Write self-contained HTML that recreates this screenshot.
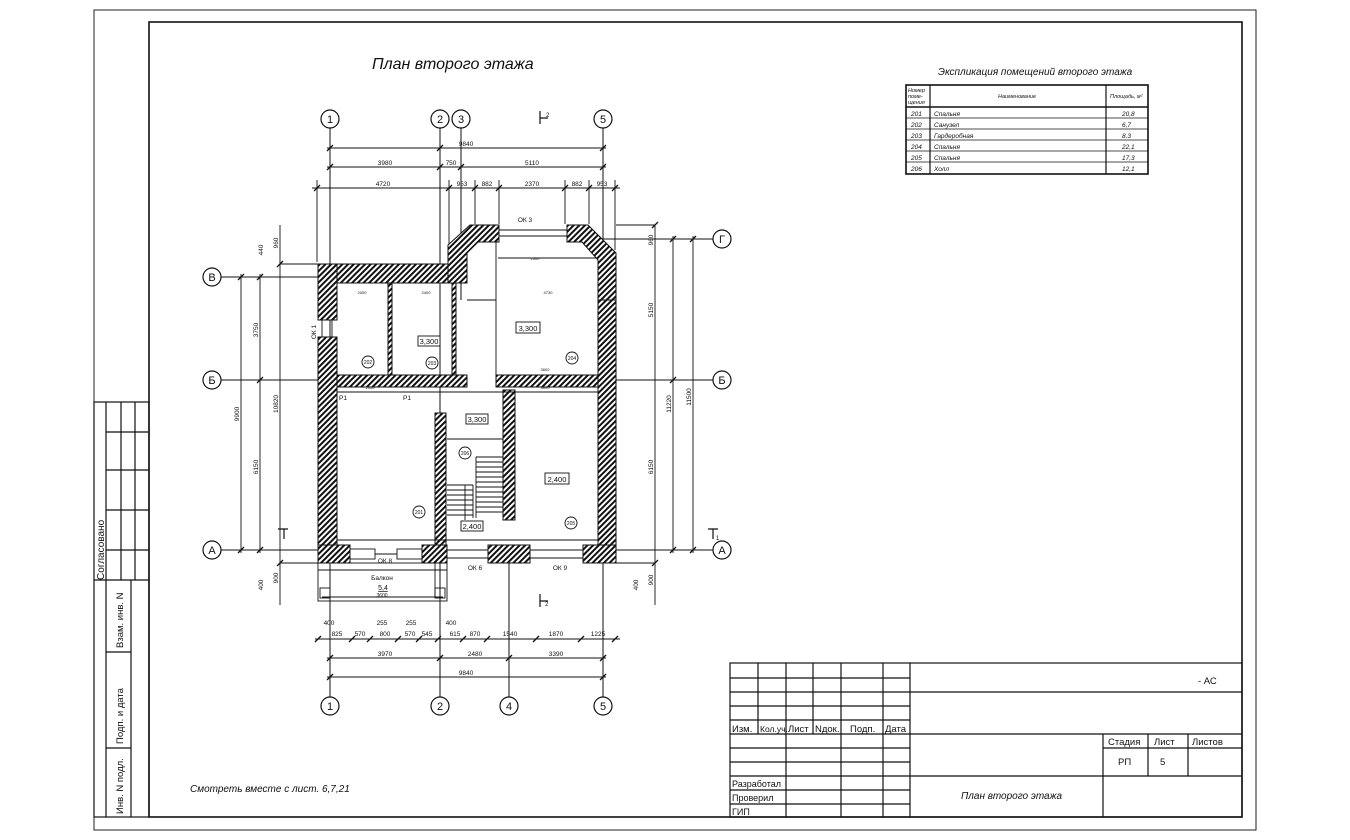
<!DOCTYPE html>
<html><head><meta charset="utf-8"><style>
html,body{margin:0;padding:0;background:#fff}
svg{display:block}
text{font-family:"Liberation Sans",sans-serif;fill:#111}
.d{font-size:6.5px}
.it{font-style:italic}
</style></head><body>
<svg width="1350" height="840" viewBox="0 0 1350 840" xmlns="http://www.w3.org/2000/svg">
<defs>
<pattern id="h" width="4" height="4" patternUnits="userSpaceOnUse" patternTransform="rotate(45)">
<rect width="4" height="4" fill="#fff"/><rect width="2" height="4" fill="#111"/>
</pattern>
</defs>
<rect width="1350" height="840" fill="#fff"/>
<!-- frames -->
<rect x="94" y="10" width="1162" height="820" fill="none" stroke="#222" stroke-width="1"/>
<rect x="149" y="22" width="1093" height="795" fill="none" stroke="#111" stroke-width="1.6"/>
<!-- left strip -->
<g stroke="#111" stroke-width="1.2" fill="none">
<rect x="94" y="402" width="55" height="415"/>
<line x1="106" y1="402" x2="106" y2="817"/>
<line x1="121" y1="402" x2="121" y2="580"/>
<line x1="135" y1="402" x2="135" y2="580"/>
<line x1="106" y1="432" x2="149" y2="432"/>
<line x1="106" y1="470" x2="149" y2="470"/>
<line x1="106" y1="510" x2="149" y2="510"/>
<line x1="106" y1="550" x2="149" y2="550"/>
<line x1="94" y1="580" x2="149" y2="580"/>
<line x1="131" y1="580" x2="131" y2="817"/>
<line x1="106" y1="652" x2="131" y2="652"/>
<line x1="106" y1="748" x2="131" y2="748"/>
</g>
<text transform="translate(104,580) rotate(-90)" style="font-size:10px">Согласовано</text>
<text transform="translate(123,648) rotate(-90)" style="font-size:9.5px">Взам. инв. N</text>
<text transform="translate(123,744) rotate(-90)" style="font-size:9.5px">Подп. и дата</text>
<text transform="translate(123,814) rotate(-90)" style="font-size:9.5px">Инв. N подл.</text>

<!-- Title -->
<text x="372" y="69" class="it" style="font-size:16px">План второго этажа</text>
<text x="938" y="75" class="it" style="font-size:10px">Экспликация помещений второго  этажа</text>
<!-- explication table -->
<g stroke="#111" fill="none">
<rect x="906" y="85" width="242" height="89" stroke-width="1.6"/>
<line x1="930" y1="85" x2="930" y2="174" stroke-width="1.2"/>
<line x1="1106" y1="85" x2="1106" y2="174" stroke-width="1.2"/>
<line x1="906" y1="107" x2="1148" y2="107" stroke-width="1.6"/>
<line x1="906" y1="118" x2="1148" y2="118" stroke-width="0.8"/>
<line x1="906" y1="129" x2="1148" y2="129" stroke-width="0.8"/>
<line x1="906" y1="140" x2="1148" y2="140" stroke-width="0.8"/>
<line x1="906" y1="151" x2="1148" y2="151" stroke-width="0.8"/>
<line x1="906" y1="162" x2="1148" y2="162" stroke-width="0.8"/>
</g>
<g style="font-size:5.5px" class="it">
<text x="908" y="92">Номер</text><text x="908" y="98">поме-</text><text x="908" y="104">щения</text>
<text x="998" y="98">Наименование</text>
<text x="1110" y="98">Площадь, м²</text>
</g>
<g style="font-size:6.5px" class="it">
<text x="911" y="116">201</text><text x="934" y="116">Спальня</text><text x="1122" y="116">20,8</text>
<text x="911" y="127">202</text><text x="934" y="127">Санузел</text><text x="1122" y="127">6,7</text>
<text x="911" y="138">203</text><text x="934" y="138">Гардеробная</text><text x="1122" y="138">8.3</text>
<text x="911" y="149">204</text><text x="934" y="149">Спальня</text><text x="1122" y="149">22,1</text>
<text x="911" y="160">205</text><text x="934" y="160">Спальня</text><text x="1122" y="160">17,3</text>
<text x="911" y="171">206</text><text x="934" y="171">Холл</text><text x="1122" y="171">12,1</text>
</g>

<!-- axis lines -->
<g stroke="#111" stroke-width="1">
<line x1="330" y1="128" x2="330" y2="697"/>
<line x1="440" y1="128" x2="440" y2="697"/>
<line x1="461" y1="128" x2="461" y2="300"/>
<line x1="509" y1="560" x2="509" y2="697"/>
<line x1="603" y1="128" x2="603" y2="697"/>
<line x1="221" y1="277" x2="340" y2="277"/>
<line x1="221" y1="380" x2="340" y2="380"/>
<line x1="600" y1="380" x2="713" y2="380"/>
<line x1="221" y1="550" x2="340" y2="550"/>
<line x1="600" y1="550" x2="713" y2="550"/>
<line x1="600" y1="239" x2="713" y2="239"/>
</g>
<g stroke="#111" stroke-width="1.2" fill="#fff">
<circle cx="330" cy="119" r="9"/><circle cx="440" cy="119" r="9"/><circle cx="461" cy="119" r="9"/><circle cx="603" cy="119" r="9"/>
<circle cx="330" cy="706" r="9"/><circle cx="440" cy="706" r="9"/><circle cx="509" cy="706" r="9"/><circle cx="603" cy="706" r="9"/>
<circle cx="212" cy="277" r="9"/><circle cx="212" cy="380" r="9"/><circle cx="212" cy="550" r="9"/>
<circle cx="722" cy="239" r="9"/><circle cx="722" cy="380" r="9"/><circle cx="722" cy="550" r="9"/>
</g>
<g style="font-size:11px" text-anchor="middle">
<text x="330" y="123">1</text><text x="440" y="123">2</text><text x="461" y="123">3</text><text x="603" y="123">5</text>
<text x="330" y="710">1</text><text x="440" y="710">2</text><text x="509" y="710">4</text><text x="603" y="710">5</text>
<text x="212" y="281">В</text><text x="212" y="384">Б</text><text x="212" y="554">А</text>
<text x="722" y="243">Г</text><text x="722" y="384">Б</text><text x="722" y="554">А</text>
</g>

<!-- dimension lines -->
<g stroke="#111" stroke-width="0.9">
<line x1="327" y1="148" x2="606" y2="148"/>
<line x1="327" y1="167" x2="606" y2="167"/>
<line x1="312" y1="188" x2="620" y2="188"/>
<line x1="317" y1="180" x2="317" y2="262"/>
<line x1="449" y1="180" x2="449" y2="245"/>
<line x1="475" y1="180" x2="475" y2="224"/>
<line x1="499" y1="180" x2="499" y2="224"/>
<line x1="565" y1="180" x2="565" y2="224"/>
<line x1="589" y1="180" x2="589" y2="224"/>
<line x1="615" y1="180" x2="615" y2="250"/>
<line x1="315" y1="639" x2="620" y2="639"/>
<line x1="327" y1="658" x2="606" y2="658"/>
<line x1="327" y1="677" x2="606" y2="677"/>
<line x1="241" y1="274" x2="241" y2="553"/>
<line x1="260" y1="274" x2="260" y2="553"/>
<line x1="280" y1="225" x2="280" y2="605"/>
<line x1="655" y1="225" x2="655" y2="605"/>
<line x1="673" y1="236" x2="673" y2="553"/>
<line x1="693" y1="236" x2="693" y2="553"/>
<line x1="280" y1="264" x2="318" y2="264"/>
<line x1="616" y1="225" x2="655" y2="225"/>
<line x1="616" y1="563" x2="655" y2="563"/>
<line x1="280" y1="563" x2="318" y2="563"/>
</g>
<g stroke="#111" stroke-width="1.3">
<path d="M327 151l6-6M437 151l6-6M600 151l6-6M327 170l6-6M437 170l6-6M458 170l6-6M600 170l6-6"/>
<path d="M314 191l6-6M446 191l6-6M472 191l6-6M496 191l6-6M562 191l6-6M586 191l6-6M612 191l6-6"/>
<path d="M327 661l6-6M437 661l6-6M506 661l6-6M600 661l6-6M327 680l6-6M600 680l6-6"/>
<path d="M315 642l6-6M349 642l6-6M367 642l6-6M395 642l6-6M416 642l6-6M435 642l6-6M460 642l6-6M484 642l6-6M533 642l6-6M578 642l6-6M612 642l6-6"/>
<path d="M238 280l6-6M238 553l6-6M257 280l6-6M257 383l6-6M257 553l6-6M277 267l6-6M277 566l6-6M652 228l6-6M652 566l6-6M670 242l6-6M670 383l6-6M670 553l6-6M690 242l6-6M690 553l6-6"/>
</g>
<g class="d" text-anchor="middle">
<text x="466" y="146">9840</text>
<text x="385" y="165">3980</text><text x="451" y="165">750</text><text x="532" y="165">5110</text>
<text x="383" y="186">4720</text><text x="462" y="186">953</text><text x="487" y="186">882</text><text x="532" y="186">2370</text><text x="577" y="186">882</text><text x="602" y="186">953</text>
<text x="337" y="636">825</text><text x="360" y="636">570</text><text x="385" y="636">800</text><text x="410" y="636">570</text><text x="427" y="636">545</text><text x="455" y="636">615</text><text x="475" y="636">870</text><text x="510" y="636">1540</text><text x="556" y="636">1870</text><text x="598" y="636">1225</text>
<text x="329" y="625">400</text><text x="382" y="625">255</text><text x="411" y="625">255</text><text x="451" y="625">400</text>
<text x="385" y="656">3970</text><text x="475" y="656">2480</text><text x="556" y="656">3390</text>
<text x="466" y="675">9840</text>
<text x="525" y="222">ОК 3</text><text x="385" y="563">ОК 8</text><text x="475" y="570">ОК 6</text><text x="560" y="570">ОК 9</text>
</g>
<g class="d" text-anchor="middle">
<text transform="translate(239,414) rotate(-90)">9900</text>
<text transform="translate(258,330) rotate(-90)">3750</text>
<text transform="translate(258,467) rotate(-90)">6150</text>
<text transform="translate(278,404) rotate(-90)">10820</text>
<text transform="translate(263,250) rotate(-90)">440</text>
<text transform="translate(278,243) rotate(-90)">960</text>
<text transform="translate(263,585) rotate(-90)">400</text>
<text transform="translate(278,578) rotate(-90)">900</text>
<text transform="translate(653,310) rotate(-90)">5150</text>
<text transform="translate(653,467) rotate(-90)">6150</text>
<text transform="translate(671,404) rotate(-90)">11220</text>
<text transform="translate(691,397) rotate(-90)">11500</text>
<text transform="translate(653,240) rotate(-90)">960</text>
<text transform="translate(653,580) rotate(-90)">900</text>
<text transform="translate(638,585) rotate(-90)">400</text>
<text transform="translate(316,332) rotate(-90)">ОК 1</text>
</g>

<!-- section marks -->
<g stroke="#111" stroke-width="1.2" fill="none">
<path d="M540 111v13M540 118h8"/>
<path d="M540 594v13M540 601h8"/>
<path d="M284 529v10M278 529h10"/>
<path d="M708 529h10M713 529v10"/>
</g>
<g style="font-size:6px"><text x="546" y="117">2</text><text x="545" y="606">2</text><text x="716" y="540">1</text></g>

<!-- building floor -->
<rect x="318" y="264" width="298" height="299" fill="none"/>
<!-- walls -->
<g fill="url(#h)" stroke="#111" stroke-width="1">
<rect x="318" y="264" width="19" height="56"/>
<rect x="318" y="337" width="19" height="226"/>
<rect x="337" y="264" width="111" height="19"/>
<polygon points="448,283 448,245 470,225 499,225 499,242 478,242 467,253 467,283"/>
<polygon points="567,225 588,225 616,253 616,300 598,300 598,260 582,242 567,242"/>
<rect x="598" y="300" width="18" height="263"/>
<rect x="337" y="375" width="130" height="12"/>
<rect x="496" y="375" width="102" height="12"/>
<rect x="318" y="545" width="32" height="18"/>
<rect x="422" y="545" width="25" height="18"/>
<rect x="488" y="545" width="42" height="18"/>
<rect x="583" y="545" width="33" height="18"/>
<rect x="435" y="413" width="11" height="132"/>
<rect x="503" y="390" width="12" height="130"/>
<rect x="388" y="283" width="4" height="92"/>
<rect x="452" y="283" width="4" height="92"/>
</g>
<g stroke="#111" stroke-width="0.9" fill="none">
<line x1="499" y1="230" x2="567" y2="230"/><line x1="499" y1="236" x2="567" y2="236"/>
<line x1="322" y1="320" x2="322" y2="337"/><line x1="332" y1="320" x2="332" y2="337"/>
<rect x="350" y="549" width="25" height="10"/><rect x="397" y="549" width="25" height="10"/>
<line x1="375" y1="554" x2="397" y2="554"/>
<line x1="447" y1="550" x2="488" y2="550"/><line x1="447" y1="558" x2="488" y2="558"/>
<line x1="530" y1="550" x2="583" y2="550"/><line x1="530" y1="558" x2="583" y2="558"/>
<line x1="496" y1="242" x2="496" y2="375"/>
<line x1="498" y1="258" x2="598" y2="258"/>
<line x1="467" y1="300" x2="496" y2="300"/>
<line x1="447" y1="439" x2="503" y2="439"/>
<line x1="337" y1="392" x2="598" y2="392"/>
<line x1="337" y1="540" x2="598" y2="540"/>
<path d="M476 457h27M476 462h27M476 467h27M476 472h27M476 477h27M476 482h27M476 487h27M476 492h27M476 497h27M476 502h27M476 507h27M476 512h27M476 457v61"/>
<path d="M447 485h26M447 490h26M447 495h26M447 500h26M447 505h26M447 510h26M447 515h26M473 485v33"/>
<line x1="465" y1="485" x2="465" y2="520"/>
<!-- balcony -->
<rect x="318" y="563" width="129" height="38"/>
<line x1="330" y1="563" x2="330" y2="598"/><line x1="435" y1="563" x2="435" y2="598"/>
<line x1="322" y1="597" x2="443" y2="597"/>
<line x1="318" y1="570" x2="447" y2="570"/>
<rect x="320" y="588" width="10" height="10"/><rect x="435" y="588" width="10" height="10"/>
</g>
<g style="font-size:6.5px" text-anchor="middle">
<text x="382" y="580">Балкон</text><text x="383" y="590" style="font-size:7px;text-decoration:underline">5,4</text>
<text x="382" y="597" style="font-size:5px">3600</text>
<text x="343" y="400">Р1</text><text x="407" y="400">Р1</text>
</g>
<!-- room number circles -->
<g stroke="#111" stroke-width="0.9" fill="#fff">
<circle cx="368" cy="362" r="6"/><circle cx="432" cy="363" r="6"/><circle cx="572" cy="358" r="6"/>
<circle cx="419" cy="512" r="6"/><circle cx="465" cy="453" r="6"/><circle cx="571" cy="523" r="6"/>
<rect x="418" y="336" width="22" height="10"/><rect x="516" y="322" width="24" height="11"/>
<rect x="466" y="414" width="22" height="10"/><rect x="545" y="473" width="24" height="11"/>
<rect x="461" y="521" width="22" height="10"/>
</g>
<g style="font-size:5px" text-anchor="middle">
<text x="368" y="364">202</text><text x="432" y="365">203</text><text x="572" y="360">204</text>
<text x="419" y="514">201</text><text x="465" y="455">206</text><text x="571" y="525">205</text>
</g>
<g style="font-size:7.5px" text-anchor="middle">
<text x="429" y="344">3,300</text><text x="528" y="331">3,300</text><text x="477" y="422">3,300</text>
<text x="557" y="482">2,400</text><text x="472" y="529">2,400</text>
</g>
<g style="font-size:4px" text-anchor="middle" fill="#333">
<text x="362" y="294">2000</text><text x="426" y="294">2400</text><text x="548" y="294">4730</text><text x="535" y="260">2500</text>
<text x="545" y="371">3600</text><text x="545" y="389">3600</text><text x="370" y="389">2000</text>
</g>

<!-- stamp -->
<g stroke="#111" stroke-width="1.2" fill="none">
<rect x="730" y="663" width="512" height="154"/>
<line x1="910" y1="663" x2="910" y2="817"/>
<line x1="730" y1="678" x2="910" y2="678"/>
<line x1="730" y1="692" x2="1242" y2="692"/>
<line x1="730" y1="706" x2="910" y2="706"/>
<line x1="730" y1="720" x2="910" y2="720"/>
<line x1="730" y1="734" x2="1242" y2="734"/>
<line x1="730" y1="748" x2="910" y2="748"/>
<line x1="1103" y1="748" x2="1242" y2="748"/>
<line x1="730" y1="762" x2="910" y2="762"/>
<line x1="730" y1="776" x2="1242" y2="776"/>
<line x1="730" y1="790" x2="910" y2="790"/>
<line x1="730" y1="804" x2="910" y2="804"/>
<line x1="758" y1="663" x2="758" y2="734"/>
<line x1="786" y1="663" x2="786" y2="817"/>
<line x1="813" y1="663" x2="813" y2="734"/>
<line x1="841" y1="663" x2="841" y2="817"/>
<line x1="883" y1="663" x2="883" y2="817"/>
<line x1="1103" y1="734" x2="1103" y2="817"/>
<line x1="1148" y1="734" x2="1148" y2="776"/>
<line x1="1188" y1="734" x2="1188" y2="776"/>
</g>
<g style="font-size:9.5px">
<text x="732" y="732">Изм.</text><text x="760" y="732" style="font-size:8.5px">Кол.уч.</text><text x="788" y="732">Лист</text><text x="815" y="732">Nдок.</text><text x="850" y="732">Подп.</text><text x="885" y="732">Дата</text>
<text x="732" y="787" style="font-size:9px">Разработал</text><text x="732" y="801" style="font-size:9px">Проверил</text><text x="732" y="815" style="font-size:9px">ГИП</text>
<text x="1108" y="745">Стадия</text><text x="1154" y="745">Лист</text><text x="1192" y="745">Листов</text>
<text x="1118" y="765">РП</text><text x="1160" y="765">5</text>
<text x="1198" y="684">- АС</text>
</g>
<text x="961" y="799" class="it" style="font-size:10px">План второго этажа</text>
<text x="190" y="792" class="it" style="font-size:10px">Смотреть вместе с лист. 6,7,21</text>
</svg>
</body></html>
